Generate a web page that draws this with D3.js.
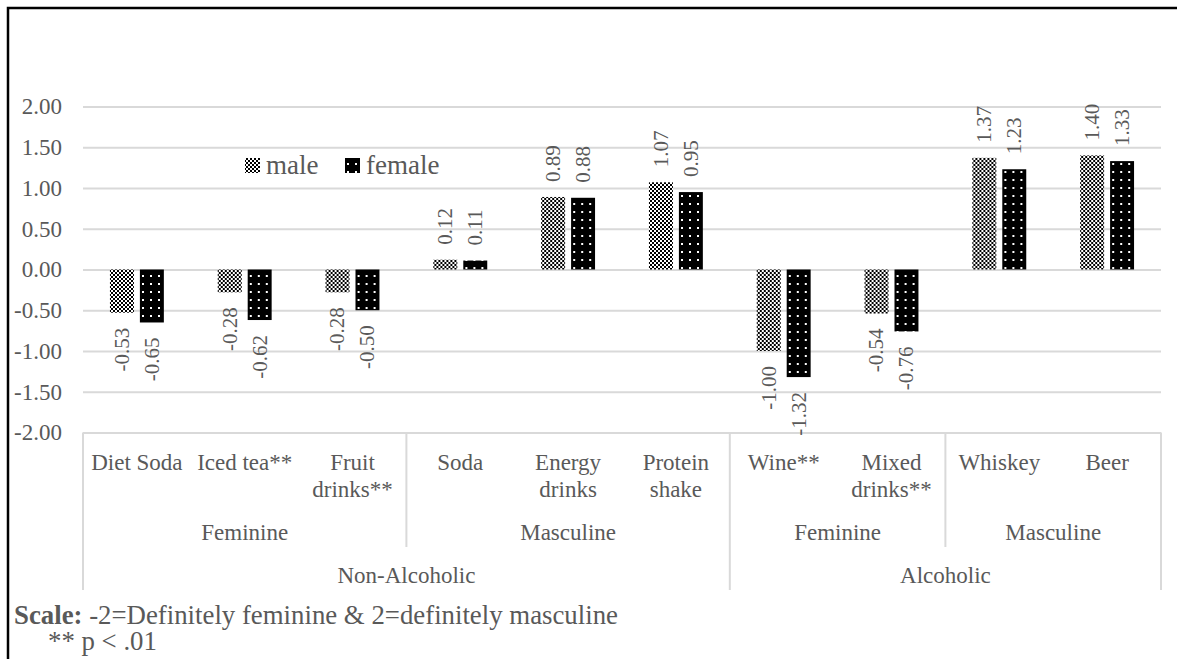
<!DOCTYPE html>
<html>
<head>
<meta charset="utf-8">
<script src="https://cdn.jsdelivr.net/npm/d3@7"></script>
<style>
body { margin: 0; background: #fff; }
svg text { font-family: "Liberation Serif", "Times New Roman", serif; fill: #595959; }
</style>
</head>
<body>
<div id="chart"></div>
<script>
/*globals d3 */

// Category labels, one entry per line as wrapped in the original.
var categories = [
    ["Diet Soda"], ["Iced tea**"], ["Fruit", "drinks**"],
    ["Soda"], ["Energy", "drinks"], ["Protein", "shake"],
    ["Wine**"], ["Mixed", "drinks**"],
    ["Whiskey"], ["Beer"]
];
var series = ["male", "female"];
var maleValues = [-0.53, -0.28, -0.28, 0.12, 0.89, 1.07, -1.00, -0.54, 1.37, 1.40];
var femaleValues = [-0.65, -0.62, -0.50, 0.11, 0.88, 0.95, -1.32, -0.76, 1.23, 1.33];
var genderGroups = [
    {name: "Feminine", size: 3},
    {name: "Masculine", size: 3},
    {name: "Feminine", size: 2},
    {name: "Masculine", size: 2}
];
var typeGroups = [
    {name: "Non-Alcoholic", size: 6},
    {name: "Alcoholic", size: 4}
];
var yTickValues = [-2, -1.5, -1, -0.5, 0, 0.5, 1, 1.5, 2];
var scaleNote = ["Scale:", "-2=Definitely feminine & 2=definitely masculine"];
var pNote = "** p < .01";

var width = 1177,
    height = 659,
    plot = {left: 83, right: 1161, top: 106.5, bottom: 432.5},
    grid = "#d9d9d9",
    serif = "'Liberation Serif', 'Times New Roman', serif",
    noteSize = 26.8,
    locale = d3.formatLocale({decimal: ".", thousands: ",", grouping: [3], currency: ["$", ""], minus: "-"}),
    fmt = locale.format(".2f"),
    svg,
    defs,
    x0,
    x1,
    y,
    yAxis,
    groups,
    valuesBySeries = {male: maleValues, female: femaleValues};

svg = d3.select("#chart").append("svg")
    .attr("width", width)
    .attr("height", height)
    .attr("font-family", serif);

// Fill patterns: fine checker for male, black with white dots for female.
defs = svg.append("defs");
(function () {
    var p = defs.append("pattern")
        .attr("id", "pat-male")
        .attr("patternUnits", "userSpaceOnUse")
        .attr("width", 4)
        .attr("height", 4);
    p.append("rect").attr("width", 4).attr("height", 4).attr("fill", "#fff");
    p.append("rect").attr("width", 2).attr("height", 2).attr("fill", "#000");
    p.append("rect").attr("x", 2).attr("y", 2).attr("width", 2).attr("height", 2).attr("fill", "#000");

    p = defs.append("pattern")
        .attr("id", "pat-female")
        .attr("patternUnits", "userSpaceOnUse")
        .attr("width", 8)
        .attr("height", 8);
    p.append("rect").attr("width", 8).attr("height", 8).attr("fill", "#000");
    p.append("rect").attr("x", 3).attr("y", 3).attr("width", 2).attr("height", 2).attr("fill", "#fff");
}());

x0 = d3.scaleBand()
    .domain(d3.range(categories.length))
    .range([plot.left, plot.right]);

x1 = d3.scaleBand()
    .domain(series)
    .range([0, x0.bandwidth()])
    .paddingInner(0.2)
    .paddingOuter(0.9);

y = d3.scaleLinear()
    .domain([-2, 2])
    .range([plot.bottom, plot.top]);

// Value axis with gridlines.
yAxis = svg.append("g")
    .attr("transform", "translate(" + plot.left + ",0)")
    .call(d3.axisLeft(y)
        .tickValues(yTickValues)
        .tickSize(-(plot.right - plot.left))
        .tickPadding(21)
        .tickFormat(fmt))
    .attr("font-family", serif);
yAxis.select(".domain").remove();
yAxis.selectAll("line").attr("stroke", grid).attr("stroke-width", 2);
yAxis.selectAll("text")
    .style("font-size", "23px")
    .attr("fill", "#595959");

// Bars.
groups = svg.append("g").selectAll("g")
    .data(categories.map(function (c, i) { return i; }))
    .join("g")
    .attr("transform", function (i) { return "translate(" + x0(i) + ",0)"; });

groups.selectAll("rect")
    .data(function (i) {
        return series.map(function (s) { return {key: s, value: valuesBySeries[s][i]}; });
    })
    .join("rect")
    .attr("x", function (d) { return x1(d.key); })
    .attr("width", x1.bandwidth())
    .attr("y", function (d) { return y(Math.max(0, d.value)); })
    .attr("height", function (d) { return Math.abs(y(d.value) - y(0)); })
    .attr("fill", function (d) { return "url(#pat-" + d.key + ")"; });

// Data labels, rotated, outside the bar end.
groups.selectAll("text.value")
    .data(function (i) {
        return series.map(function (s) { return {key: s, value: valuesBySeries[s][i]}; });
    })
    .join("text")
    .attr("class", "value")
    .style("font-size", "21px")
    .attr("text-anchor", function (d) { return d.value >= 0 ? "start" : "end"; })
    .attr("dy", "0.33em")
    .attr("transform", function (d) {
        var cx = x1(d.key) + x1.bandwidth() / 2,
            cy = d.value >= 0 ? y(d.value) - 15 : y(d.value) + 15;
        return "translate(" + cx + "," + cy + ") rotate(-90)";
    })
    .text(function (d) { return fmt(d.value); });

// Multi-level category axis.
(function () {
    var axis = svg.append("g"),
        bottom2 = 547,
        bottom3 = 590,
        start = 0,
        edges;

    categories.forEach(function (lines, i) {
        var t = axis.append("text")
            .attr("x", x0(i) + x0.bandwidth() / 2)
            .attr("y", 470)
            .attr("text-anchor", "middle")
            .style("font-size", "23px");
        lines.forEach(function (line, k) {
            t.append("tspan")
                .attr("x", x0(i) + x0.bandwidth() / 2)
                .attr("dy", k === 0 ? 0 : 27)
                .text(line);
        });
    });

    function edge(idx) {
        return idx >= categories.length ? plot.right : x0(idx);
    }

    genderGroups.forEach(function (g) {
        var a = edge(start),
            b = edge(start + g.size);
        axis.append("text")
            .attr("x", (a + b) / 2)
            .attr("y", 540)
            .attr("text-anchor", "middle")
            .style("font-size", "23px")
            .text(g.name);
        start += g.size;
    });

    edges = [];
    start = 0;
    typeGroups.forEach(function (g) {
        var a = edge(start),
            b = edge(start + g.size);
        axis.append("text")
            .attr("x", (a + b) / 2)
            .attr("y", 583)
            .attr("text-anchor", "middle")
            .style("font-size", "23px")
            .text(g.name);
        edges.push(start);
        start += g.size;
    });
    edges.push(start);

    // Short separators between gender groups, long ones between types.
    start = 0;
    genderGroups.forEach(function (g) {
        start += g.size;
        if (edges.indexOf(start) < 0) {
            axis.append("line")
                .attr("x1", edge(start)).attr("x2", edge(start))
                .attr("y1", plot.bottom).attr("y2", bottom2)
                .attr("stroke", grid).attr("stroke-width", 2);
        }
    });
    edges.forEach(function (idx) {
        axis.append("line")
            .attr("x1", edge(idx)).attr("x2", edge(idx))
            .attr("y1", plot.bottom).attr("y2", bottom3)
            .attr("stroke", grid).attr("stroke-width", 2);
    });
}());

// Legend.
(function () {
    var legend = svg.append("g"),
        items = [{key: "male", x: 245}, {key: "female", x: 345}];

    items.forEach(function (it) {
        legend.append("rect")
            .attr("x", it.x)
            .attr("y", 158)
            .attr("width", 15)
            .attr("height", 15)
            .attr("fill", "url(#pat-" + it.key + ")");
        legend.append("text")
            .attr("x", it.x + 21)
            .attr("y", 174)
            .style("font-size", "27px")
            .text(it.key);
    });
}());

// Footnotes: bold lead word, then the rest placed after it.
(function () {
    var lead = svg.append("text")
            .attr("x", 14)
            .attr("y", 624)
            .style("font-size", noteSize + "px")
            .style("font-weight", "bold")
            .text(scaleNote[0]),
        leadWidth = lead.node().getComputedTextLength(),
        spaceWidth = noteSize * 0.25;

    svg.append("text")
        .attr("x", 14 + leadWidth + spaceWidth)
        .attr("y", 624)
        .style("font-size", noteSize + "px")
        .text(scaleNote[1]);

    svg.append("text")
        .attr("x", 48)
        .attr("y", 650)
        .style("font-size", noteSize + "px")
        .text(pNote);
}());

// Outer frame (left and top edges only are visible).
svg.append("path")
    .attr("d", "M8," + height + "V8H" + width)
    .attr("fill", "none")
    .attr("stroke", "#000")
    .attr("stroke-width", 2.5);
</script>
</body>
</html>
